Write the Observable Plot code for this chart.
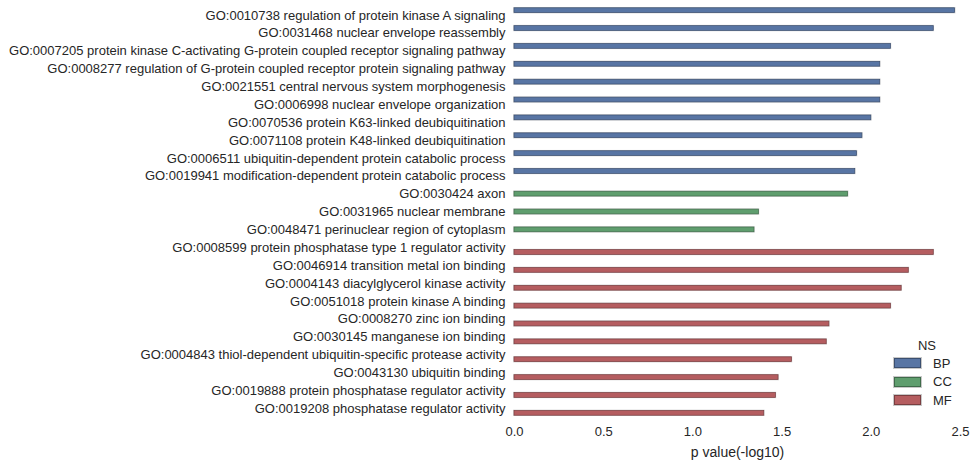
<!DOCTYPE html>
<html>
<head>
<meta charset="utf-8">
<script src="https://cdn.jsdelivr.net/npm/d3@7"></script>
<script src="https://cdn.jsdelivr.net/npm/@observablehq/plot@0.6"></script>
<style>
  html, body { margin: 0; padding: 0; background: white; }
  #wrap { position: relative; width: 977px; height: 466px; font-family: "Liberation Sans", Arial, sans-serif; color: #262626; }
  #wrap svg [aria-label="x-axis label"] text, #wrap svg [aria-label="x-axis label"] { font-size: 14px; }
  #legend { position: absolute; left: 894px; top: 337px; font-size: 13px; }
  #legend .title { width: 66px; text-align: center; margin-left: 0; height: 17px; line-height: 17px; }
  #legend .item { display: flex; align-items: center; height: 18.5px; }
  #legend .sw { width: 25px; height: 8px; margin-right: 12px; box-shadow: 0 0 0 1px #c8c8c8; }
</style>
</head>
<body>
<div id="wrap"></div>
<script>
const terms = [
  "GO:0010738 regulation of protein kinase A signaling",
  "GO:0031468 nuclear envelope reassembly",
  "GO:0007205 protein kinase C-activating G-protein coupled receptor signaling pathway",
  "GO:0008277 regulation of G-protein coupled receptor protein signaling pathway",
  "GO:0021551 central nervous system morphogenesis",
  "GO:0006998 nuclear envelope organization",
  "GO:0070536 protein K63-linked deubiquitination",
  "GO:0071108 protein K48-linked deubiquitination",
  "GO:0006511 ubiquitin-dependent protein catabolic process",
  "GO:0019941 modification-dependent protein catabolic process",
  "GO:0030424 axon",
  "GO:0031965 nuclear membrane",
  "GO:0048471 perinuclear region of cytoplasm",
  "GO:0008599 protein phosphatase type 1 regulator activity",
  "GO:0046914 transition metal ion binding",
  "GO:0004143 diacylglycerol kinase activity",
  "GO:0051018 protein kinase A binding",
  "GO:0008270 zinc ion binding",
  "GO:0030145 manganese ion binding",
  "GO:0004843 thiol-dependent ubiquitin-specific protease activity",
  "GO:0043130 ubiquitin binding",
  "GO:0019888 protein phosphatase regulator activity",
  "GO:0019208 phosphatase regulator activity"
];
const namespaces = ["BP","BP","BP","BP","BP","BP","BP","BP","BP","BP",
                    "CC","CC","CC",
                    "MF","MF","MF","MF","MF","MF","MF","MF","MF","MF"];
const pvalues = [2.47, 2.35, 2.11, 2.05, 2.05, 2.05, 2.00, 1.95, 1.92, 1.91,
                 1.87, 1.37, 1.345,
                 2.35, 2.21, 2.17, 2.11, 1.765, 1.75, 1.555, 1.48, 1.465, 1.40];
const nsList = ["BP", "CC", "MF"];
const xTicks = [0, 0.5, 1.0, 1.5, 2.0, 2.5];

const fills = ["#5875a4", "#5f9e6e", "#b55d60"];
const edges = ["#3b4f70", "#3f6b4a", "#7a3e40"];

const data = terms.map((t, i) => ({term: t, ns: namespaces[i], value: pvalues[i]}));

const marks = [];
nsList.forEach((n, i) => {
  const sub = data.filter(d => d.ns === n);
  marks.push(Plot.barX(sub, {x: "value", y: "ns", fy: "term", fill: "none", stroke: "#cfcfcf", strokeWidth: 1.6}));
  marks.push(Plot.barX(sub, {x: "value", y: "ns", fy: "term", fill: fills[i], stroke: edges[i], strokeWidth: 0.7}));
});

const chart = Plot.plot({
  width: 977,
  height: 466,
  marginLeft: 514,
  marginRight: 17,
  marginTop: 6,
  marginBottom: 49,
  style: {fontFamily: "'Liberation Sans', Arial, sans-serif", fontSize: "13px", color: "#262626", background: "white", overflow: "visible"},
  x: {domain: [0, 2.5], ticks: xTicks, tickFormat: d3.format(".1f"), tickSize: 0, tickPadding: 9,
      label: "p value(-log10)", labelAnchor: "center", labelOffset: 39, labelArrow: false},
  y: {domain: nsList, axis: null, paddingInner: 0, paddingOuter: 0.375, round: false},
  fy: {domain: terms, padding: 0, round: false, axis: "left", label: null, tickSize: 0, tickPadding: 9},
  marks
});
const wrap = document.getElementById("wrap");
wrap.appendChild(chart);

const legend = document.createElement("div");
legend.id = "legend";
const title = document.createElement("div");
title.className = "title";
title.textContent = "NS";
legend.appendChild(title);
nsList.forEach((n, i) => {
  const item = document.createElement("div");
  item.className = "item";
  const sw = document.createElement("div");
  sw.className = "sw";
  sw.style.background = fills[i];
  sw.style.border = "0.8px solid " + edges[i];
  const lab = document.createElement("span");
  lab.textContent = n;
  item.appendChild(sw);
  item.appendChild(lab);
  legend.appendChild(item);
});
wrap.appendChild(legend);
</script>
</body>
</html>
